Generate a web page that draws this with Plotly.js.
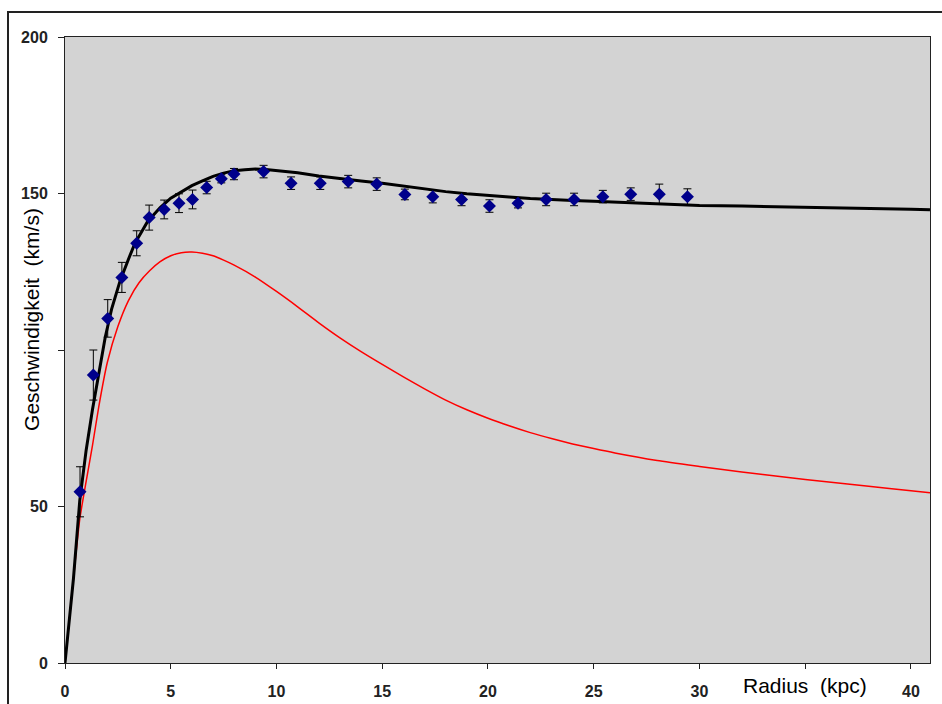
<!DOCTYPE html>
<html>
<head>
<meta charset="utf-8">
<script src="https://cdn.plot.ly/plotly-3.0.1.min.js"></script>
<style>
  html, body { margin: 0; padding: 0; background: #fff; }
  #chart { position: absolute; left: 0; top: 0; width: 942px; height: 704px; }
  #frame { position: absolute; left: 7px; top: 11px; width: 1000px; height: 1000px;
           border-left: 2px solid #222; border-top: 2px solid #222; pointer-events: none; }
</style>
</head>
<body>
<div id="chart"></div>
<div id="frame"></div>
<script>
// Measured rotation curve (data points)
const radiusObs = [0.71, 1.34, 2.02, 2.69, 3.39, 3.98, 4.69, 5.39, 6.03, 6.70, 7.39, 7.99, 9.39,
  10.69, 12.07, 13.39, 14.74, 16.07, 17.39, 18.75, 20.07, 21.42, 22.75, 24.07, 25.43, 26.75, 28.1, 29.43];
const velocityObs = [54.7, 92.0, 110.1, 123.2, 134.1, 142.3, 144.9, 146.9, 148.1, 151.9, 154.7, 156.2, 157.0,
  153.3, 153.3, 153.8, 153.0, 149.7, 149.0, 148.1, 146.0, 146.9, 148.1, 148.1, 149.0, 149.8, 149.8, 149.0];
const velocityErr = [8, 8, 6, 4.8, 4, 4, 3, 3, 3, 2, 1.3, 1.8, 2,
  2, 2, 2, 2, 1.7, 2, 2, 2, 1.5, 2, 2, 2, 2, 3.2, 2.5];

// Total model curve (black)
const radiusTotal = [0, 0.2, 0.4, 0.7, 1.0, 1.3, 1.6, 1.9, 2.2, 2.6, 3.0, 3.3, 3.9, 4.5, 5.0, 5.5, 6.0, 6.5,
  7.0, 7.5, 8.0, 8.5, 9.0, 9.5, 10.0, 11.0, 12.0, 13.0, 14.0, 15.0, 16.0, 17.0, 18.0, 19.0, 20.0, 21.0,
  22.0, 23.0, 24.0, 25.0, 26.0, 27.0, 28.0, 29.0, 30.0, 32.0, 34.0, 36.0, 38.0, 40.0, 40.9];
const velocityTotal = [0, 13, 27, 52, 68, 81, 92, 104, 113, 122, 129, 134, 141, 145.5, 148.5, 150.5, 152.5, 154,
  155.5, 156.5, 157.3, 157.6, 157.8, 157.7, 157.4, 156.6, 155.6, 154.7, 154.0, 153.3, 152.4, 151.4, 150.6, 149.9, 149.3, 148.9,
  148.4, 148.0, 147.8, 147.5, 147.2, 147.0, 146.7, 146.4, 146.2, 146.0, 145.8, 145.5, 145.3, 145.0, 144.8];

// Visible-matter curve (red)
const radiusVisible = [0.15, 0.4, 0.7, 1.0, 1.3, 1.6, 2.0, 2.5, 3.0, 3.5, 4.0, 4.5, 5.0, 5.5, 6.0, 6.5, 7.0, 7.5,
  8.0, 9.0, 10.0, 11.0, 12.0, 13.0, 14.0, 15.0, 16.0, 17.0, 18.0, 19.0, 20.0, 21.0, 22.0, 23.0, 24.0, 25.0,
  26.0, 28.0, 30.0, 32.0, 34.0, 36.0, 38.0, 40.0, 40.9];
const velocityVisible = [10, 27, 46, 58, 69.5, 82, 96, 107.5, 115.8, 121.5, 125.3, 128.2, 130.1, 131.1, 131.3, 130.9, 130.1, 128.7,
  127.1, 123.3, 118.7, 113.8, 108.7, 103.9, 99.5, 95.4, 91.4, 87.6, 84.0, 80.9, 78.2, 75.8, 73.6, 71.7, 70.0, 68.5,
  67.1, 64.7, 62.8, 61.0, 59.4, 57.9, 56.5, 55.0, 54.4];

const xTickVals = [0, 5, 10, 15, 20, 25, 30, 35, 40];
const xTickText = ['0', '5', '10', '15', '20', '25', '30', '', '40'];
const yTickVals = [0, 50, 100, 150, 200];
const yTickText = ['0', '50', '', '150', '200'];

const xLabel = 'Radius\u00a0 (kpc)';
const yLabel = 'Geschwindigkeit\u00a0 (km/s)';

const tickFont = { family: 'Liberation Sans, Arial, sans-serif', size: 16, color: '#222', weight: 'bold' };
const titleFont = { family: 'Liberation Sans, Arial, sans-serif', size: 21, color: '#000' };

const traces = [
  { x: radiusVisible, y: velocityVisible, mode: 'lines', type: 'scatter',
    line: { color: '#ff0000', width: 1.5, shape: 'spline', smoothing: 0.6 }, hoverinfo: 'x+y', showlegend: false },
  { x: radiusTotal, y: velocityTotal, mode: 'lines', type: 'scatter',
    line: { color: '#000000', width: 3 }, hoverinfo: 'x+y', showlegend: false },
  { x: radiusObs, y: velocityObs, mode: 'markers', type: 'scatter',
    marker: { symbol: 'diamond', size: 10, color: '#00008b' },
    error_y: { type: 'data', array: velocityErr, visible: true, color: '#000', thickness: 1, width: 4 },
    showlegend: false }
];

const layout = {
  width: 942, height: 704,
  margin: { l: 65, r: 12, t: 37, b: 41, pad: 0 },
  paper_bgcolor: '#ffffff',
  plot_bgcolor: '#d3d3d3',
  showlegend: false,
  xaxis: {
    range: [0, 40.9], tickmode: 'array', tickvals: xTickVals, ticktext: xTickText,
    showgrid: false, zeroline: false, showline: true, linecolor: '#222', linewidth: 1, mirror: true,
    ticks: 'outside', ticklen: 5, tickcolor: '#222', tickfont: tickFont, ticklabelstandoff: 9
  },
  yaxis: {
    range: [0, 200], tickmode: 'array', tickvals: yTickVals, ticktext: yTickText,
    showgrid: false, zeroline: false, showline: true, linecolor: '#222', linewidth: 1, mirror: true,
    ticks: 'outside', ticklen: 6, tickcolor: '#222', tickfont: tickFont, ticklabelstandoff: 7
  },
  annotations: [
    { text: xLabel, xref: 'x', yref: 'paper', x: 35, y: 0, yshift: -22,
      xanchor: 'center', yanchor: 'middle', showarrow: false, font: titleFont },
    { text: yLabel, xref: 'paper', yref: 'paper', x: 0, xshift: -33, y: 0.548,
      xanchor: 'center', yanchor: 'middle', textangle: -90, showarrow: false, font: titleFont }
  ]
};

Plotly.newPlot('chart', traces, layout, { staticPlot: true, displayModeBar: false });
</script>
</body>
</html>
